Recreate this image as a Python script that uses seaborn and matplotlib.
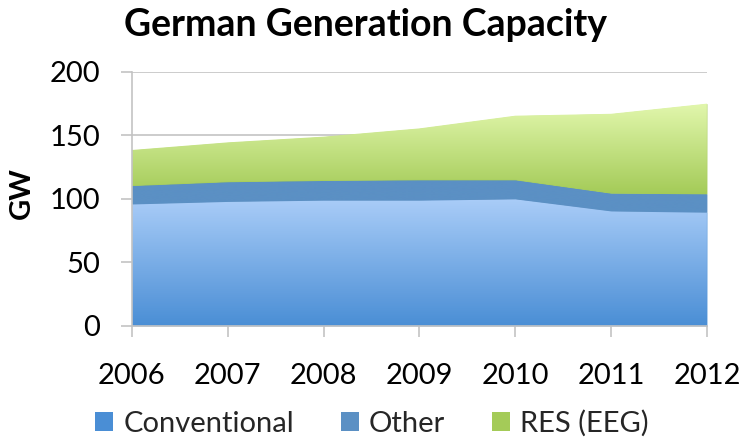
import numpy as np
import pandas as pd
import matplotlib.pyplot as plt
import seaborn as sns
from matplotlib.colors import LinearSegmentedColormap
from matplotlib.patches import Patch

# values (GW)
years = [2006, 2007, 2008, 2009, 2010, 2011, 2012]
conventional = [96, 98, 99, 99, 100, 90.5, 89.5]
other = [14.5, 15.5, 15.5, 16, 15, 14, 14.5]
res = [28, 31, 34.5, 40.5, 50.5, 62.5, 71]

df = pd.DataFrame({"year": years, "Conventional": conventional,
                   "Other": other, "RES (EEG)": res})

sns.set_theme(style="white")
plt.rcParams["font.family"] = ["Lato", "DejaVu Sans"]

fig = plt.figure(figsize=(7.41, 4.41), dpi=100)
ax = fig.add_axes([0.178, 0.261, 0.776, 0.576])

# (series, bottom colour, top colour)
series = [("Conventional", "#4a8ed5", "#aacdf8"),
          ("Other", "#5b90c4", "#5b90c4"),
          ("RES (EEG)", "#a4cb58", "#e2f7ad")]

base = np.zeros(len(df))
handles = []
for name, c_low, c_high in series:
    top = base + df[name].to_numpy()
    poly = ax.fill_between(df["year"], base, top, color=c_low, lw=0, zorder=2)
    # vertical gradient clipped to the area
    cmap = LinearSegmentedColormap.from_list(name, [c_low, c_high])
    grad = np.linspace(0, 1, 256).reshape(-1, 1)
    img = ax.imshow(grad, cmap=cmap, aspect="auto", origin="lower",
                    extent=[years[0], years[-1], base.min(), top.max()], zorder=2)
    img.set_clip_path(poly.get_paths()[0], ax.transData)
    handles.append(Patch(facecolor=c_low, edgecolor="none", label=name))
    base = top

ax.set_xlim(2006, 2012)
ax.set_ylim(0, 200)
ax.set_xticks(years)
ax.set_yticks([0, 50, 100, 150, 200])
ax.grid(axis="y", color="#c3c3c3", lw=1.2, zorder=0)
ax.set_axisbelow(True)
for s in ["top", "right"]:
    ax.spines[s].set_visible(False)
for s in ["left", "bottom"]:
    ax.spines[s].set_color("#c3c3c3")
    ax.spines[s].set_linewidth(1.2)
ax.tick_params(axis="both", direction="out", length=8, width=1.2,
               color="#c3c3c3", labelsize=21, labelcolor="black")
ax.tick_params(axis="x", pad=19, bottom=True)
ax.tick_params(axis="y", pad=15, left=True)
ax.set_xlabel("")
ax.set_ylabel("")

fig.text(0.029, 0.562, "GW", rotation=90, ha="center", va="center",
         fontsize=21, fontweight="bold", color="black")

fig.text(0.493, 0.944, "German Generation Capacity", ha="center", va="center",
         fontsize=27, fontweight="bold", color="black")

fig.legend(handles=handles, loc="center", bbox_to_anchor=(0.502, 0.04),
           ncol=3, frameon=False, fontsize=21, handlelength=0.62,
           handleheight=0.62, handletextpad=0.35, columnspacing=1.6)

fig.savefig("out.png", dpi=100)
